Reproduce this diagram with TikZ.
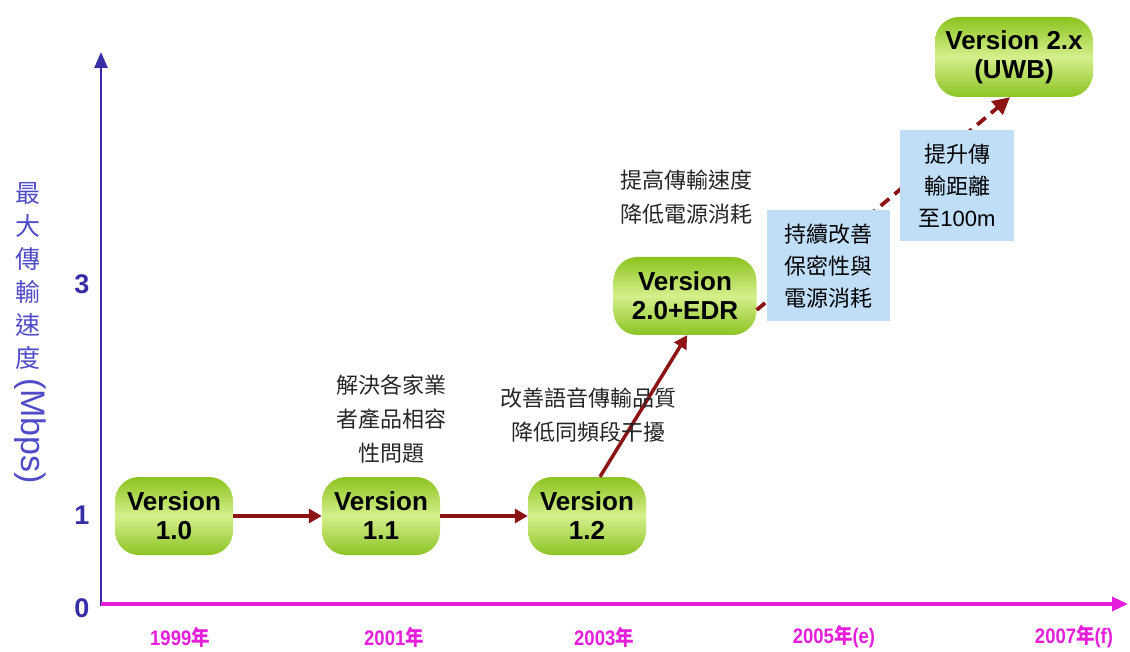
\documentclass[tikz,border=0pt]{standalone}
\usepackage{fontspec}
\setmainfont{Liberation Sans}
\newfontfamily\cjk{Noto Sans CJK TC}
\usetikzlibrary{arrows.meta}
\definecolor{axisblue}{RGB}{55,45,165}
\definecolor{labblue}{RGB}{80,75,200}
\definecolor{axismag}{RGB}{230,30,220}
\definecolor{arrowred}{RGB}{140,20,20}
\definecolor{boxblue}{RGB}{192,222,248}
\definecolor{gtop}{RGB}{140,195,30}
\definecolor{gmid}{RGB}{212,240,140}
\definecolor{gbot}{RGB}{140,195,35}
\tikzset{
  ver/.style={rounded corners=24pt, top color=gtop, bottom color=gbot, middle color=gmid,
    align=center, font=\bfseries\fontsize{26}{29}\selectfont, inner sep=2pt},
  conn/.style={draw=arrowred, line width=3.5pt, -{Triangle[length=13pt,width=14pt]}},
  dconn/.style={draw=arrowred, line width=3.8pt, dash pattern=on 11pt off 7pt, -{Triangle[length=17pt,width=17pt]}},
  bluebox/.style={fill=boxblue, align=center, font=\cjk\fontsize{22}{32}\selectfont, inner sep=0pt},
  note/.style={align=center, font=\cjk\fontsize{22}{34}\selectfont, text=black!85},
  tick/.style={text=axisblue, font=\bfseries\fontsize{27}{27}\selectfont},
  year/.style={text=axismag, font=\bfseries\fontsize{21}{21}\selectfont, xscale=0.88},
}
\begin{document}
\begin{tikzpicture}[x=1pt,y=-1pt]
\useasboundingbox (0,0) rectangle (1130,652);
% axes
\coordinate (o) at (101,604);
\coordinate (ytop) at (101,52);
\coordinate (xend) at (1128,604);
\draw[axisblue, line width=2.6pt, -{Triangle[length=16pt,width=13pt]}] (101,605.5) -- (ytop);
\draw[axismag, line width=3.2pt, -{Triangle[length=16pt,width=14pt]}] (o) -- (xend);
% ticks
\node[tick] (t3) at (82,284) {3};
\node[tick] (t1) at (82,515) {1};
\node[tick] (t0) at (82,608) {0};
% y label
\foreach \c [count=\i] in {最,大,傳,輸,速,度}
  \node[text=labblue, font=\cjk\fontsize{25}{25}\selectfont] (yl\i) at (28,{160+33*\i}) {\c};
\node[text=labblue, font=\fontsize{34}{34}\selectfont, rotate=-90] (ylm) at (30,431) {(Mbps)};
% x labels
\node[year] (y99) at (180,637) {1999{\cjk 年}};
\node[year] (y01) at (394,637) {2001{\cjk 年}};
\node[year] (y03) at (604,637) {2003{\cjk 年}};
\node[year] (y05) at (834,637) {2005{\cjk 年}(e)};
\node[year] (y07) at (1074,637) {2007{\cjk 年}(f)};
% versions
\node[ver, minimum width=118pt, minimum height=78pt] (v10) at (174,516) {Version\\1.0};
\node[ver, minimum width=118pt, minimum height=78pt] (v11) at (381,516) {Version\\1.1};
\node[ver, minimum width=118pt, minimum height=78pt] (v12) at (587,516) {Version\\1.2};
\node[ver, minimum width=143pt, minimum height=78pt] (v20) at (685,296) {Version\\2.0+EDR};
\node[ver, minimum width=158pt, minimum height=80pt] (v2x) at (1014,57) {Version 2.x\\(UWB)};
% connectors
\draw[conn] (v10) -- (v11);
\draw[conn] (v11) -- (v12);
\draw[conn] ([xshift=13pt]v12.north) -- ([xshift=2pt]v20.south);
\draw[dconn] ([yshift=-14pt]v20.east) -- ([xshift=-4pt]v2x.south);
% blue boxes
\node[bluebox, minimum width=123pt, minimum height=111pt] (b1) at (828,266) {持續改善\\保密性與\\電源消耗};
\node[bluebox, minimum width=114pt, minimum height=111pt] (b2) at (957,186) {提升傳\\輸距離\\至{\fontspec{Liberation Sans}100m}};
% notes
\node[note] (n1) at (391,419) {解決各家業\\者產品相容\\性問題};
\node[note] (n2) at (588,415) {改善語音傳輸品質\\降低同頻段干擾};
\node[note] (n3) at (686,197) {提高傳輸速度\\降低電源消耗};
\end{tikzpicture}
\end{document}
